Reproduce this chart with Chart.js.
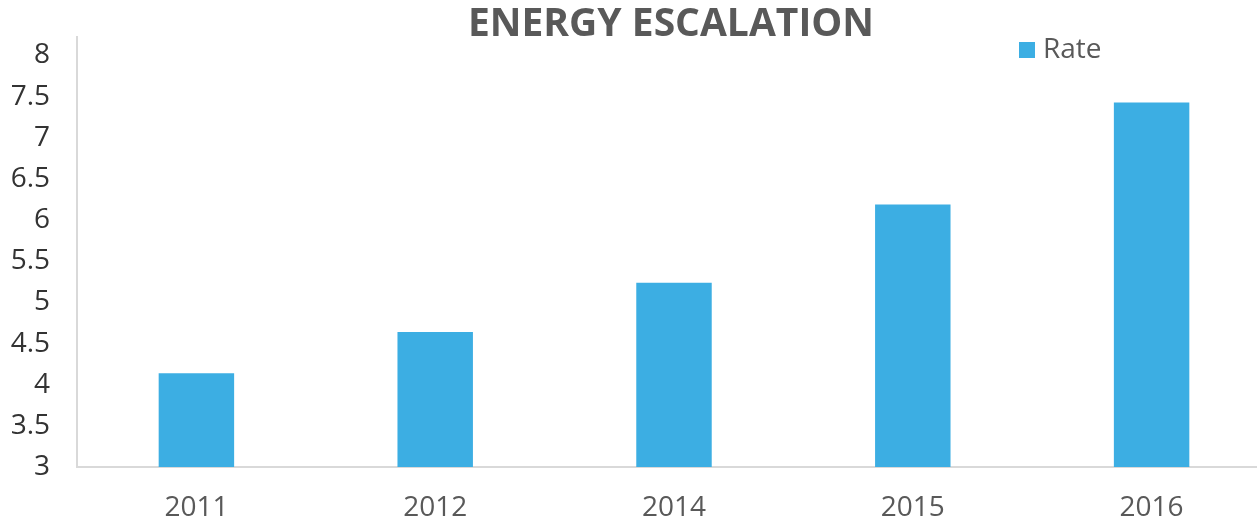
<!DOCTYPE html>
<html>
<head>
<meta charset="utf-8">
<script src="https://cdn.jsdelivr.net/npm/chart.js@4"></script>
<style>
  body { margin: 0; background: #fff; }
  #wrap { width: 1257px; height: 521px; overflow: hidden; }
</style>
</head>
<body>
<div id="wrap"><canvas id="rateChart" width="1271" height="521"></canvas></div>
<script>
const years = ["2011", "2012", "2014", "2015", "2016"];
const rateValues = [4.14, 4.64, 5.24, 6.19, 7.43];
const yTickValues = [3, 3.5, 4, 4.5, 5, 5.5, 6, 6.5, 7, 7.5, 8];
const chartTitle = "ENERGY ESCALATION";
const seriesName = "Rate";

const barColor = "#3caee3";
const fontFamily = "'Open Sans', 'Noto Sans', sans-serif";

// title over the plot area + legend in the top right, like the excel original
const titleLegend = {
    id: "titleLegend",
    afterDraw(chart) {
        const ctx = chart.ctx;
        const area = chart.chartArea;
        ctx.save();
        ctx.fillStyle = "#595959";
        ctx.font = "bold 39px " + fontFamily;
        ctx.textAlign = "center";
        ctx.textBaseline = "middle";
        ctx.fillText(chartTitle, (area.left + area.right) / 2 - 3, 25);

        ctx.fillStyle = barColor;
        ctx.fillRect(1019, 42, 16, 16);
        ctx.fillStyle = "#595959";
        ctx.font = "28px " + fontFamily;
        ctx.textAlign = "left";
        ctx.fillText(seriesName, 1043, 50);
        ctx.restore();
    }
};

const rateChart = new Chart(document.getElementById("rateChart"), {
    type: "bar",
    data: {
        labels: years,
        datasets: [{
            label: seriesName,
            data: rateValues,
            backgroundColor: barColor,
            borderWidth: 0,
            barPercentage: 0.316,
            categoryPercentage: 1.0,
        }]
    },
    options: {
        responsive: false,
        animation: false,
        layout: { padding: { top: 37, left: 0, right: 0, bottom: 0 } },
        plugins: {
            legend: { display: false },
            title: { display: false },
            tooltip: { enabled: false },
        },
        scales: {
            x: {
                grid: { display: false, drawTicks: false },
                border: { display: true, color: "#d9d9d9", width: 2 },
                ticks: { color: "#595959", font: { family: fontFamily, size: 28 }, padding: 24 },
                afterFit(scale) { scale.height = 54; },
            },
            y: {
                min: 3,
                max: 8.225,
                grid: { display: false, drawTicks: false },
                border: { display: true, color: "#d9d9d9", width: 2 },
                ticks: {
                    color: "#333333",
                    font: { family: fontFamily, size: 28 },
                    padding: 27,
                    callback: v => String(v),
                },
                afterBuildTicks(scale) {
                    scale.ticks = yTickValues.map(v => ({ value: v }));
                },
                afterFit(scale) {
                    scale.width = 77;
                    scale.paddingTop = 0;
                    scale.paddingBottom = 0;
                },
            }
        }
    },
    plugins: [titleLegend],
});
</script>
</body>
</html>
